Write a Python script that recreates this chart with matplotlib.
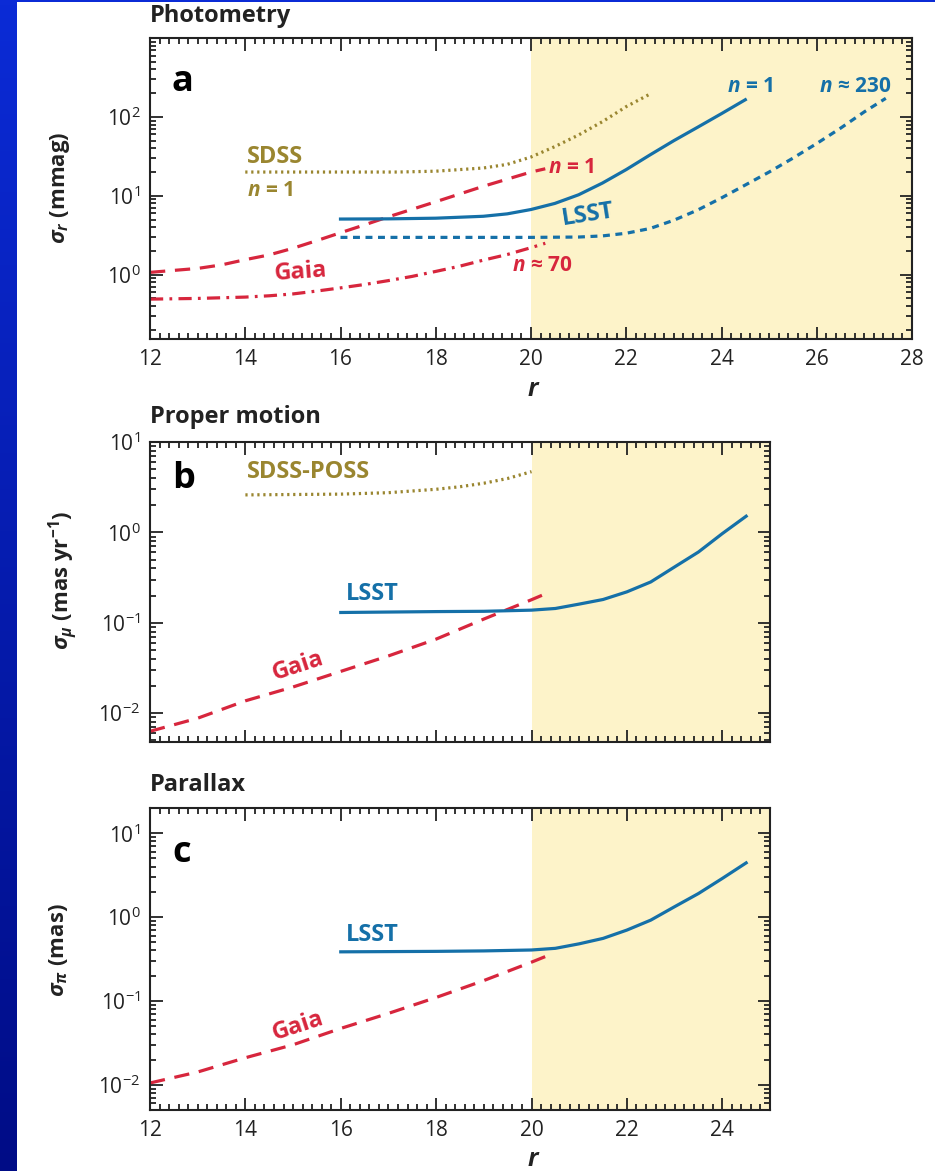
"""
Photometric, proper-motion and parallax errors vs r magnitude:
SDSS, Gaia and LSST compared in three stacked log panels.
Output: out.png
"""

import numpy as np
import matplotlib
matplotlib.use("Agg")
import matplotlib.pyplot as plt
from matplotlib.ticker import FixedLocator, LogLocator, MultipleLocator, NullFormatter

plt.rcParams["font.family"] = ["Open Sans", "DejaVu Sans"]
plt.rcParams["mathtext.fontset"] = "custom"
plt.rcParams["mathtext.rm"] = "Open Sans"
plt.rcParams["mathtext.it"] = "Open Sans:italic:bold"
plt.rcParams["mathtext.bf"] = "Open Sans:bold"
plt.rcParams["mathtext.default"] = "regular"
plt.rcParams["lines.scale_dashes"] = False

# ---------------------------------------------------------------------------
# Data
# ---------------------------------------------------------------------------

# Panel a: photometry, sigma_r [mmag]
r_sdss_a = [14, 16, 17.2, 18, 19, 19.5, 20, 20.5, 21, 21.5, 22, 22.5]
sdss_a = [20, 20, 20, 20.5, 22.5, 25, 31, 42, 59, 87, 135, 195]

r_gaia1_a = [12, 13, 13.5, 14, 14.5, 15, 15.5, 16, 16.5, 17, 18, 19, 20, 20.3]
gaia1_a = [1.07, 1.2, 1.33, 1.55, 1.78, 2.16, 2.7, 3.4, 4.27, 5.4, 8.4, 13.2, 20, 22]

r_gaia70_a = [12, 13, 14, 14.5, 15, 15.5, 16, 16.5, 17, 17.5, 18, 18.5, 19, 19.5, 20, 20.3]
gaia70_a = [0.49, 0.50, 0.52, 0.54, 0.57, 0.62, 0.68, 0.75, 0.84, 0.95, 1.1,
            1.28, 1.53, 1.8, 2.2, 2.5]

r_lsst1_a = [16, 17, 18, 19, 19.5, 20, 20.5, 21, 21.5, 22, 22.5, 23, 23.5, 24, 24.5]
lsst1_a = [5.07, 5.1, 5.2, 5.5, 5.9, 6.7, 8.0, 10.3, 14.5, 21.5, 33, 50, 74, 110, 165]

r_lsst230_a = [16, 18, 20, 21, 21.5, 22, 22.5, 23, 23.5, 24, 24.5, 25, 25.5,
               26, 26.5, 27, 27.45]
lsst230_a = [2.97, 2.97, 2.97, 3.0, 3.1, 3.35, 3.85, 4.9, 6.6, 9.4, 13.7, 20, 30,
             46, 72, 116, 172]

# Panel b: proper motion, sigma_mu [mas/yr]
r_sdss_b = [14, 16, 17, 18, 18.5, 19, 19.5, 20]
sdss_b = [2.6, 2.65, 2.75, 3.0, 3.2, 3.5, 3.95, 4.7]

r_gaia_b = [12, 13, 14, 15, 16, 17, 18, 19, 20, 20.3]
gaia_b = [0.0063, 0.0088, 0.0137, 0.0195, 0.029, 0.043, 0.066, 0.11, 0.18, 0.21]

r_lsst_b = [16, 18, 19, 20, 20.5, 21, 21.5, 22, 22.5, 23, 23.5, 24, 24.5]
lsst_b = [0.130, 0.133, 0.134, 0.138, 0.144, 0.161, 0.181, 0.22, 0.283, 0.415,
          0.607, 0.97, 1.51]

# Panel c: parallax, sigma_pi [mas]
r_gaia_c = [12, 13, 14, 15, 16, 17, 18, 19, 20, 20.3]
gaia_c = [0.0105, 0.0142, 0.021, 0.030, 0.047, 0.071, 0.11, 0.175, 0.29, 0.34]

r_lsst_c = [16, 18, 19, 20, 20.5, 21, 21.5, 22, 22.5, 23, 23.5, 24, 24.5]
lsst_c = [0.385, 0.39, 0.395, 0.405, 0.424, 0.48, 0.557, 0.70, 0.92, 1.33, 1.91,
          2.89, 4.43]

# ---------------------------------------------------------------------------
# Styles
# ---------------------------------------------------------------------------
BLUE = "#1570a8"
RED = "#d7263d"
OLIVE = "#9a8630"
YELLOW = "#fdf3c9"
INK = "#222222"

W, H = 935, 1171
fig = plt.figure(figsize=(W / 100, H / 100), dpi=100)
fig.patch.set_facecolor("white")

# blue slide background strip on the left
bg = fig.add_axes([0, 0, 17 / W, 1])
bg.imshow(np.linspace(0, 1, 256)[:, None], aspect="auto",
          cmap=matplotlib.colors.LinearSegmentedColormap.from_list(
              "slide", ["#0b2bd6", "#000c86"]))
bg.axis("off")
top = fig.add_axes([0, 1 - 2 / H, 1, 2 / H])
top.axis("off")
top.add_patch(plt.Rectangle((0, 0), 1, 1, color="#0b2bd6", transform=top.transAxes))


def px_axes(left, right, t, b):
    return fig.add_axes([left / W, 1 - b / H, (right - left) / W, (b - t) / H])


def style(ax, xmax, ylo, yhi, decades, xlabels=True):
    ax.set_yscale("log")
    ax.set_xlim(12, xmax)
    ax.set_ylim(ylo, yhi)
    ax.axvspan(20, xmax, color=YELLOW, lw=0, zorder=0)
    ax.xaxis.set_major_locator(MultipleLocator(2))
    ax.xaxis.set_minor_locator(MultipleLocator(0.2))
    ax.yaxis.set_major_locator(FixedLocator([10.0 ** d for d in decades]))
    ax.set_yticklabels([r"10$^{%d}$" % d for d in decades])
    ax.yaxis.set_minor_locator(LogLocator(subs=np.arange(2, 10)))
    ax.yaxis.set_minor_formatter(NullFormatter())
    ax.tick_params(which="both", direction="in", top=True, right=True,
                   color=INK, width=1.3, labelsize=15, labelcolor=INK)
    ax.tick_params(which="major", length=9, pad=7)
    ax.tick_params(which="minor", length=4)
    if not xlabels:
        ax.tick_params(axis="x", labelbottom=False)
    for s in ax.spines.values():
        s.set_linewidth(1.5)
        s.set_color(INK)


dash_red = (11, 7)
dash_blue = (5, 4)
dot_olive = (1.6, 2.7)
dashdot_red = (9.5, 4.5, 2, 4.5)
LW = 2.3

# ---------------------------------------------------------------------------
# Panel a
# ---------------------------------------------------------------------------
ax = px_axes(150, 912, 38, 339)
style(ax, 28, 0.153, 1000, [0, 1, 2])
ax.plot(r_sdss_a, sdss_a, color=OLIVE, lw=LW, dashes=dot_olive)
ax.plot(r_gaia1_a, gaia1_a, color=RED, lw=LW, dashes=dash_red)
ax.plot(r_gaia70_a, gaia70_a, color=RED, lw=LW, dashes=dashdot_red)
ax.plot(r_lsst1_a, lsst1_a, color=BLUE, lw=LW)
ax.plot(r_lsst230_a, lsst230_a, color=BLUE, lw=LW, dashes=dash_blue)

ax.text(12.46, 280, "a", fontsize=26, fontweight="bold", color="black", va="center")
ax.text(14.04, 31, "SDSS", fontsize=17, fontweight="bold", color=OLIVE, va="center")
ax.text(14.04, 11.8, r"$\mathit{n}$ = 1", fontsize=15, fontweight="bold",
        color=OLIVE, va="center")
ax.text(15.17, 1.08, "Gaia", fontsize=17, fontweight="bold", color=RED,
        ha="center", va="center", rotation=4)
ax.text(20.36, 23, r"$\mathit{n}$ = 1", fontsize=15, fontweight="bold",
        color=RED, va="center")
ax.text(19.6, 1.29, r"$\mathit{n}$ ≈ 70", fontsize=15, fontweight="bold",
        color=RED, va="center")
ax.text(21.2, 5.7, "LSST", fontsize=17, fontweight="bold", color=BLUE,
        ha="center", va="center", rotation=9)
ax.text(24.6, 245, r"$\mathit{n}$ = 1", fontsize=15, fontweight="bold",
        color=BLUE, ha="center", va="center")
ax.text(26.8, 245, r"$\mathit{n}$ ≈ 230", fontsize=15, fontweight="bold",
        color=BLUE, ha="center", va="center")

fig.text(150 / W, 1 - 16 / H, "Photometry", fontsize=17, fontweight="bold",
         color=INK, va="center")
fig.text(60 / W, 1 - 188 / H, r"$\mathit{\sigma_r}$ (mmag)", fontsize=16,
         fontweight="bold", color=INK, rotation=90, ha="center", va="center")
fig.text(534 / W, 1 - 390 / H, r"$\mathit{r}$", fontsize=18, color=INK,
         ha="center", va="center")

# ---------------------------------------------------------------------------
# Panel b
# ---------------------------------------------------------------------------
ax = px_axes(150, 770, 442, 742)
style(ax, 25, 0.0048, 10, [-2, -1, 0, 1], xlabels=False)
ax.plot(r_sdss_b, sdss_b, color=OLIVE, lw=LW, dashes=dot_olive)
ax.plot(r_gaia_b, gaia_b, color=RED, lw=LW, dashes=dash_red)
ax.plot(r_lsst_b, lsst_b, color=BLUE, lw=LW)

ax.text(12.46, 3.9, "b", fontsize=26, fontweight="bold", color="black", va="center")
ax.text(14.04, 4.6, "SDSS-POSS", fontsize=17, fontweight="bold", color=OLIVE,
        va="center")
ax.text(16.1, 0.207, "LSST", fontsize=17, fontweight="bold", color=BLUE, va="center")
ax.text(15.1, 0.033, "Gaia", fontsize=17, fontweight="bold", color=RED,
        ha="center", va="center", rotation=18)

fig.text(150 / W, 1 - 417 / H, "Proper motion", fontsize=17, fontweight="bold",
         color=INK, va="center")
fig.text(63 / W, 1 - 580 / H, r"$\mathit{\sigma_\mu}$ (mas yr$^{\mathbf{-1}}$)",
         fontsize=16, fontweight="bold", color=INK, rotation=90,
         ha="center", va="center")

# ---------------------------------------------------------------------------
# Panel c
# ---------------------------------------------------------------------------
ax = px_axes(150, 770, 808, 1110)
style(ax, 25, 0.005, 20, [-2, -1, 0, 1])
ax.plot(r_gaia_c, gaia_c, color=RED, lw=LW, dashes=dash_red)
ax.plot(r_lsst_c, lsst_c, color=BLUE, lw=LW)

ax.text(12.46, 5.8, "c", fontsize=26, fontweight="bold", color="black", va="center")
ax.text(16.1, 0.61, "LSST", fontsize=17, fontweight="bold", color=BLUE, va="center")
ax.text(15.1, 0.050, "Gaia", fontsize=17, fontweight="bold", color=RED,
        ha="center", va="center", rotation=18)

fig.text(150 / W, 1 - 785 / H, "Parallax", fontsize=17, fontweight="bold",
         color=INK, va="center")
fig.text(58 / W, 1 - 950 / H, r"$\mathit{\sigma_\pi}$ (mas)", fontsize=16,
         fontweight="bold", color=INK, rotation=90, ha="center", va="center")
fig.text(534 / W, 1 - 1160 / H, r"$\mathit{r}$", fontsize=18, color=INK,
         ha="center", va="center")

fig.savefig("out.png", dpi=100)
